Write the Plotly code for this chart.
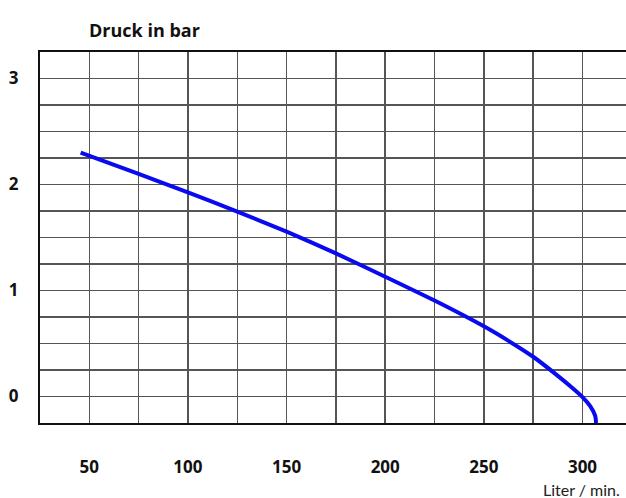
import plotly.graph_objects as go

# Data
flow_l_min = [45.6, 75, 100, 125, 150, 175, 200, 225, 250, 262.5, 275, 287.5, 294.3, 300, 303.9, 306.4, 306.9]
pressure_bar = [2.30, 2.10, 1.925, 1.745, 1.555, 1.350, 1.130, 0.905, 0.662, 0.525, 0.375, 0.195, 0.09, -0.005, -0.09, -0.18, -0.25]

x_tick_vals = [50, 100, 150, 200, 250, 300]
y_tick_vals = [0, 1, 2, 3]

title_text = "Druck in bar"
x_unit_text = "Liter / min."

grid_color = "#555555"
tick_font = dict(family="Open Sans", size=17, color="#111111")

fig = go.Figure()
fig.add_trace(go.Scatter(
    x=flow_l_min, y=pressure_bar, mode="lines",
    line=dict(color="#0a0af0", width=4, shape="spline", smoothing=0.6),
    hoverinfo="skip", showlegend=False,
))

fig.update_layout(
    width=626, height=498,
    margin=dict(l=40, r=0, t=52, b=75),
    paper_bgcolor="white", plot_bgcolor="white",
    font=dict(family="Open Sans", color="#111111"),
    xaxis=dict(
        range=[25, 322.05], tickvals=x_tick_vals,
        ticktext=[f"<b>{v}</b>" for v in x_tick_vals],
        tickfont=tick_font, ticks="", ticklabelstandoff=28,
        showgrid=True, gridcolor=grid_color, gridwidth=1.5,
        minor=dict(tick0=25, dtick=25, showgrid=True, gridcolor=grid_color, gridwidth=1.5),
        showline=True, linecolor="#111111", linewidth=2, mirror=True,
        zeroline=False, fixedrange=True,
    ),
    yaxis=dict(
        range=[-0.25, 3.25], tickvals=y_tick_vals,
        ticktext=[f"<b>{v}</b>" for v in y_tick_vals],
        tickfont=tick_font, ticks="", ticklabelstandoff=16,
        showgrid=True, gridcolor=grid_color, gridwidth=1.5,
        minor=dict(tick0=0, dtick=0.25, showgrid=True, gridcolor=grid_color, gridwidth=1.5),
        showline=True, linecolor="#111111", linewidth=2,
        zeroline=False, fixedrange=True,
    ),
    annotations=[
        dict(text=f"<b>{title_text}</b>", xref="paper", yref="paper",
             x=(87 - 40) / 586, y=1 + (52.3 - 30) / 370.4, xanchor="left", yanchor="middle",
             showarrow=False, font=dict(family="Open Sans", size=18, color="#111111")),
        dict(text=x_unit_text, xref="paper", yref="paper",
             x=(622 - 40) / 586, y=-(489 - 422.7) / 370.4, xanchor="right", yanchor="middle",
             showarrow=False, font=dict(family="Lato", size=16, color="#222222")),
    ],
)

fig.write_html(
    "out.html",
    config={"displayModeBar": False, "staticPlot": True},
    post_script="document.body.style.margin='0';document.body.style.padding='0';",
)
